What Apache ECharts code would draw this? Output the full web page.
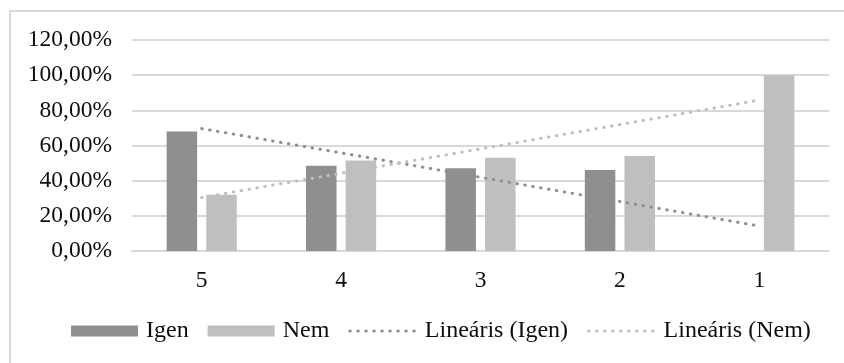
<!DOCTYPE html>
<html>
<head>
<meta charset="utf-8">
<script src="https://cdn.jsdelivr.net/npm/echarts@6/dist/echarts.min.js"></script>
<style>
html,body{margin:0;padding:0;background:#fff;}
#c{width:844px;height:363px;}
</style>
</head>
<body>
<div id="c"></div>
<script>
// Data (percent)
const categories = ['5', '4', '3', '2', '1'];
const igen = [68, 48.5, 47, 46, 0];
const nem = [32, 51.5, 53, 54, 100];
// Linear trend lines
const trendIgen = [69.6, 55.8, 41.9, 28.1, 14.2];
const trendNem = [30.4, 44.2, 58.1, 71.9, 85.8];
const yTicks = { min: 0, max: 120, interval: 20 };

const font = "'Liberation Serif', 'Times New Roman', serif";
const textColor = '#0d0d0d';
const dotted = { width: 3, type: [0.5, 7.5], cap: 'round' };

const chart = echarts.init(document.getElementById('c'), null, { renderer: 'canvas' });
chart.setOption({
  animation: false,
  backgroundColor: '#fff',
  graphic: [{
    type: 'rect',
    shape: { x: 10, y: 11, width: 1000, height: 1000 },
    style: { fill: 'none', stroke: '#d9d9d9', lineWidth: 2 },
    silent: true
  }],
  grid: { left: 132, right: 15, top: 40, bottom: 112, containLabel: false },
  legend: {
    left: 71,
    top: 319,
    padding: 0,
    itemWidth: 67,
    itemHeight: 11,
    itemGap: 19,
    textStyle: { fontFamily: font, fontSize: 24, color: textColor, padding: [0, 0, 0, 3] },
    data: [
      { name: 'Igen', icon: 'rect' },
      { name: 'Nem', icon: 'rect' },
      { name: 'Lineáris (Igen)', itemStyle: { opacity: 0 },
        lineStyle: Object.assign({ color: '#8f8f8f' }, dotted) },
      { name: 'Lineáris (Nem)', itemStyle: { opacity: 0 },
        lineStyle: Object.assign({ color: '#bfbfbf' }, dotted) }
    ]
  },
  xAxis: {
    type: 'category',
    data: categories,
    axisLine: { show: true, lineStyle: { color: '#d9d9d9', width: 2 } },
    axisTick: { show: false },
    axisLabel: { fontFamily: font, fontSize: 23.5, color: textColor, margin: 18 }
  },
  yAxis: {
    type: 'value',
    min: yTicks.min,
    max: yTicks.max,
    interval: yTicks.interval,
    axisLine: { show: false },
    axisTick: { show: false },
    splitLine: { lineStyle: { color: '#d9d9d9', width: 2 } },
    axisLabel: {
      fontFamily: font, fontSize: 23.5, color: textColor, margin: 20,
      formatter: v => v.toFixed(2).replace('.', ',') + '%'
    }
  },
  series: [
    {
      name: 'Igen', type: 'bar', data: igen,
      barWidth: 30.5, barGap: '30%',
      itemStyle: { color: '#8f8f8f' }
    },
    {
      name: 'Nem', type: 'bar', data: nem,
      barWidth: 30.5, barGap: '30%',
      itemStyle: { color: '#bfbfbf' }
    },
    {
      name: 'Lineáris (Igen)', type: 'line', data: trendIgen,
      symbol: 'none', z: 5,
      itemStyle: { color: '#8f8f8f' },
      lineStyle: Object.assign({ color: '#8f8f8f' }, dotted)
    },
    {
      name: 'Lineáris (Nem)', type: 'line', data: trendNem,
      symbol: 'none', z: 5,
      itemStyle: { color: '#bfbfbf' },
      lineStyle: Object.assign({ color: '#bfbfbf' }, dotted)
    }
  ]
});
</script>
</body>
</html>
